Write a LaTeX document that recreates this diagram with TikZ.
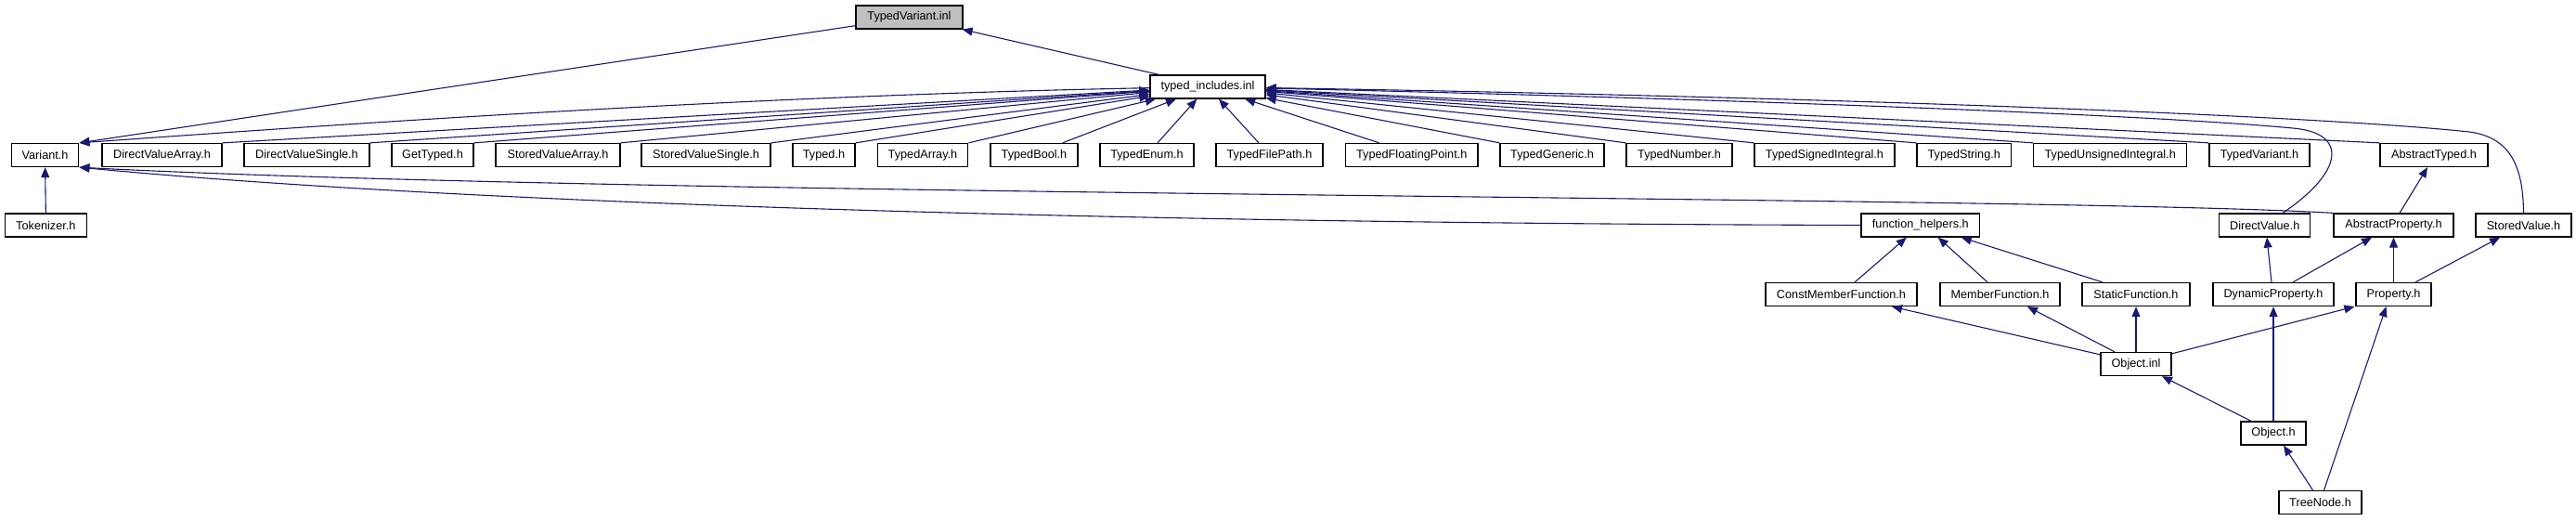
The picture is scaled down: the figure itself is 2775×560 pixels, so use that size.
\documentclass[tikz,border=0pt]{standalone}
\usepackage{fontspec}
\setmainfont{Liberation Sans}
\usetikzlibrary{arrows.meta,calc}
\definecolor{edgeblue}{RGB}{25,25,112}
\definecolor{rootgray}{RGB}{191,191,191}
\begin{document}
\begin{tikzpicture}[x=1pt,y=-1pt,
  file/.style={draw=black,line width=1.3pt,fill=white,minimum height=25pt,inner sep=0pt,font=\fontsize{12.7}{15}\selectfont},
  root/.style={file,fill=rootgray},
  dep/.style={draw=edgeblue,line width=1.1pt,-{Triangle[length=11pt,width=9pt]}}]
\useasboundingbox (0,0) rectangle (2775,560);
% row 0
\node[root,minimum width=115pt] (tvi) at (979.5,18.5) {TypedVariant.inl};
% row 1
\node[file,minimum width=124pt] (ti) at (1301,93.5) {typed\_includes.inl};
% row 2
\node[file,minimum width=72.3pt] (var) at (48.6,167) {Variant.h};
\node[file,minimum width=129pt] (dva) at (174.5,167) {DirectValueArray.h};
\node[file,minimum width=135pt] (dvs) at (330.5,167) {DirectValueSingle.h};
\node[file,minimum width=88pt] (gt) at (466,167) {GetTyped.h};
\node[file,minimum width=134pt] (sva) at (601,167) {StoredValueArray.h};
\node[file,minimum width=139pt] (svs) at (760.5,167) {StoredValueSingle.h};
\node[file,minimum width=67pt] (ty) at (887.5,167) {Typed.h};
\node[file,minimum width=97.5pt] (tarr) at (994,167) {TypedArray.h};
\node[file,minimum width=94pt] (tb) at (1114,167) {TypedBool.h};
\node[file,minimum width=101pt] (te) at (1235.5,167) {TypedEnum.h};
\node[file,minimum width=115pt] (tfp) at (1367.5,167) {TypedFilePath.h};
\node[file,minimum width=142.5pt] (tfl) at (1520.75,167) {TypedFloatingPoint.h};
\node[file,minimum width=112pt] (tg) at (1672,167) {TypedGeneric.h};
\node[file,minimum width=114pt] (tn) at (1809,167) {TypedNumber.h};
\node[file,minimum width=151pt] (tsi) at (1965.5,167) {TypedSignedIntegral.h};
\node[file,minimum width=101.5pt] (ts) at (2115.75,167) {TypedString.h};
\node[file,minimum width=165pt] (tui) at (2273.2,167) {TypedUnsignedIntegral.h};
\node[file,minimum width=108pt] (tvh) at (2434,167) {TypedVariant.h};
\node[file,minimum width=116pt] (at) at (2622,167) {AbstractTyped.h};
% row 3
\node[file,minimum width=88pt] (tok) at (49.35,242.5) {Tokenizer.h};
\node[file,minimum width=127.6pt] (fh) at (2068.8,242.5) {function\_helpers.h};
\node[file,minimum width=98pt] (dv) at (2439.7,242.5) {DirectValue.h};
\node[file,minimum width=129pt] (ap) at (2578.5,242.5) {AbstractProperty.h};
\node[file,minimum width=103pt] (sv) at (2718.5,242.5) {StoredValue.h};
% row 4
\node[file,minimum width=163pt] (cmf) at (1983.5,317) {ConstMemberFunction.h};
\node[file,minimum width=129pt] (mf) at (2154.5,317) {MemberFunction.h};
\node[file,minimum width=116pt] (sf) at (2301,317) {StaticFunction.h};
\node[file,minimum width=130pt] (dp) at (2449,317) {DynamicProperty.h};
\node[file,minimum width=81pt] (prop) at (2578.5,317) {Property.h};
% row 5-7
\node[file,minimum width=76pt] (oi) at (2301,392) {Object.inl};
\node[file,minimum width=70pt] (oh) at (2449,466.5) {Object.h};
\node[file,minimum width=89pt] (tree) at (2499.5,541) {TreeNode.h};

% edges to the root
\draw[dep] ($(ti.north west)+(10,0)$) -- (tvi);
\draw[dep] ($(tvi.south west)+(0,-4)$) -- (var.north east);
\draw[dep] (ti) .. controls (800,103) and (350,135) .. (var.north east);

% edges into typed_includes.inl
\draw[dep] (dva.north east) -- (ti);
\draw[dep] (dvs.north east) -- (ti);
\draw[dep] (gt.north east) -- (ti);
\draw[dep] (sva.north east) -- (ti);
\draw[dep] (svs.north east) -- (ti);
\draw[dep] (ty.north east) -- (ti);
\draw[dep] (tarr.north east) -- (ti);
\draw[dep] ($(tb.north east)+(-17,0)$) -- (ti);
\draw[dep] ($(te.north)+(11.5,0)$) -- (ti);
\draw[dep] ($(tfp.north)+(-11.5,0)$) -- (ti);
\draw[dep] ($(tfl.north)+(-35,0)$) -- (ti);
\draw[dep] (tg.north west) -- (ti);
\draw[dep] (tn.north west) -- (ti);
\draw[dep] (tsi.north west) -- (ti);
\draw[dep] (ts.north west) -- (ti);
\draw[dep] (tui.north west) -- (ti);
\draw[dep] (tvh.north west) -- (ti);
\draw[dep] (at.north west) -- (ti);
\draw[dep] ($(dv.north)+(19.3,0)$) .. controls (2525,185) and (2530,143) .. (2470,138)
  .. controls (2300,122) and (1800,105) .. (ti);
\draw[dep] (sv.north) .. controls (2718,180) and (2705,148) .. (2660,142)
  .. controls (2500,125) and (2000,105) .. (ti);

% edges into Variant.h
\draw[dep] (tok.north) -- (var.south);
\draw[dep] (fh.west) .. controls (1100,240) and (450,215) .. (var.south east);
\draw[dep] (ap.north west) .. controls (2200,211) and (700,212) .. (var.south east);

% lower part
\draw[dep] ($(cmf.north)+(14.5,0)$) -- ($(fh.south)+(-15,0)$);
\draw[dep] ($(mf.north)+(-13.5,0)$) -- ($(fh.south)+(19,0)$);
\draw[dep] ($(sf.north)+(-36,0)$) -- ($(fh.south)+(44,0)$);
\draw[dep] ($(ap.north)+(6.5,0)$) -- ($(at.south)+(-7,0)$);
\draw[dep] ($(dp.north)+(-2,0)$) -- ($(dv.south)+(2.3,0)$);
\draw[dep] ($(dp.north)+(21,0)$) -- ($(ap.south)+(-23.5,0)$);
\draw[dep] (prop.north) -- (ap.south);
\draw[dep] ($(prop.north)+(23.5,0)$) -- ($(sv.south)+(-25.5,0)$);
\draw[dep] ($(oi.north west)+(0,3)$) -- ($(cmf.south)+(54.5,0)$);
\draw[dep] ($(oi.north)+(-23,0)$) -- ($(mf.south)+(29.5,0)$);
\draw[dep] (oi.north) -- (sf.south);
\draw[dep] ($(oi.north east)+(0,2)$) -- ($(prop.south west)+(-1,0)$);
\draw[dep] ($(oh.north)+(-24,0)$) -- ($(oi.south)+(28,0)$);
\draw[dep] (oh.north) -- (dp.south);
\draw[dep] ($(tree.north)+(-8,0)$) -- ($(oh.south)+(11,0)$);
\draw[dep] ($(tree.north)+(4,0)$) -- ($(prop.south)+(-8,0)$);
\end{tikzpicture}
\end{document}
